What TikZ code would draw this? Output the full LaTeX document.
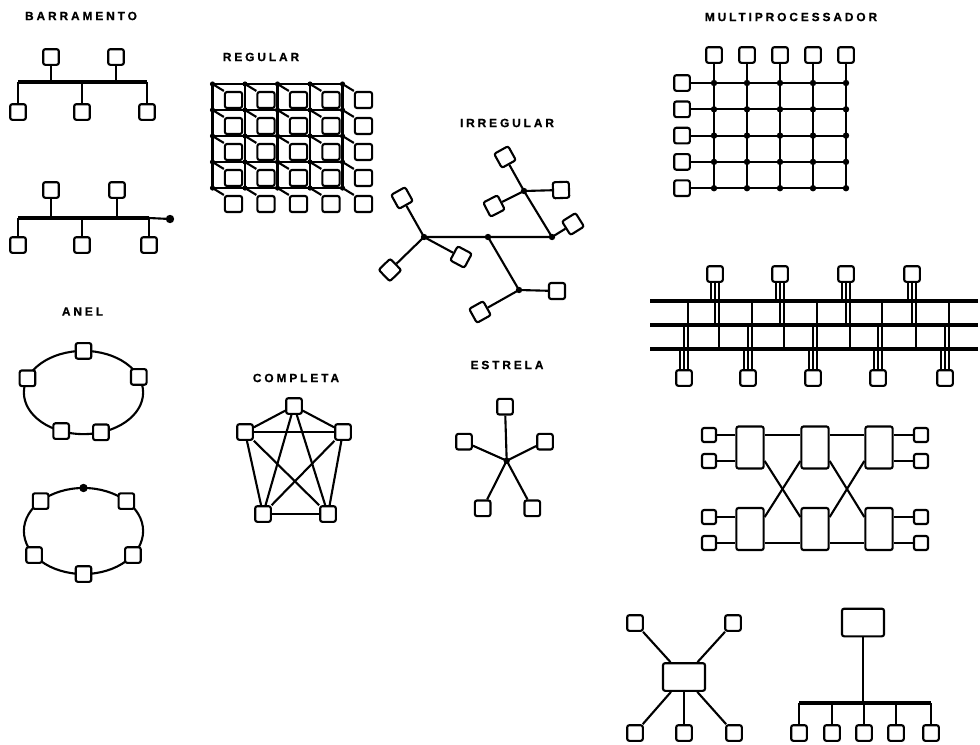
\documentclass[tikz,border=0pt]{standalone}
\usepackage{fontspec}
\newfontfamily\capfont{Liberation Sans}[LetterSpace=24,FakeBold=0.6]
\usetikzlibrary{positioning}
\tikzset{
  proc/.style={draw,line width=1.5pt,fill=white,rounded corners=1.5pt,
    minimum size=0.39cm,inner sep=0pt},
  cell/.style={proc,minimum width=0.43cm,minimum height=0.4cm},
  port/.style={proc,minimum size=0.35cm},
  tilt/.style={proc,minimum size=0.4cm,rotate=#1},
  swbox/.style={proc,minimum width=0.68cm,minimum height=1.05cm},
  hostbox/.style={proc,minimum width=1.05cm,minimum height=0.69cm},
  junc/.style={circle,fill,inner sep=0pt,minimum size=#1},
  junc/.default=0.16cm,
  link/.style={line width=1.5pt},
  bus/.style={line width=3.2pt},
  title/.style={font=\capfont\bfseries\fontsize{8.5}{10}\selectfont},
}

\begin{document}
\begin{tikzpicture}[x=0.025cm,y=-0.025cm]
  \useasboundingbox (0,0) rectangle (980,744);

  % barramento
  \node[title] (tbar) at (81,16) {BARRAMENTO};
  \foreach \n/\x/\y in {a/51/57,b/116/57,c/18/112,d/82/112,e/147/112}
    \node[proc] (p\n) at (\x,\y) {};
  \coordinate (busa) at (18,82);
  \coordinate (busb) at (147,82);
  \foreach \n in {a,...,e} \draw[link] (p\n) -- (p\n |- busa);
  \draw[bus] (busa) -- (busb);

  \foreach \n/\x/\y in {a/51/190,b/117/190,c/18/245,d/82/245,e/149/245}
    \node[proc] (t\n) at (\x,\y) {};
  \coordinate (busc) at (18,218);
  \coordinate (busd) at (149,218);
  \node[junc=0.21cm] (tend) at (170,219) {};
  \foreach \n in {a,...,e} \draw[link] (t\n) -- (t\n |- busc);
  \draw[link] (busd) -- (tend.center);
  \draw[bus] (busc) -- (busd);

  % regular
  \node[title] (treg) at (261,57) {REGULAR};
  \foreach \i in {0,...,4} \foreach \j in {0,...,4}
    \node[junc=0.13cm] (r\i\j) at ({212.5+32.5*\i},{84+26*\j}) {};
  \foreach \k in {0,...,4} {
    \draw[link] (r0\k.center) -- (r4\k.center);
    \draw[link] (r\k0.center) -- (r\k4.center);
  }
  \foreach \i in {0,...,4} \foreach \j in {0,...,4} {
    \node[cell] (c\i\j) at ({233.5+32.5*\i},{100+26*\j}) {};
    \draw[link] (r\i\j.center) -- (c\i\j.north west);
  }

  % irregular
  \node[title] (tirr) at (507,123) {IRREGULAR};
  \foreach \n/\x/\y in {A/424/237,B/488/237,C/552/237,D/524/191,E/519/290}
    \node[junc] (h\n) at (\x,\y) {};
  \draw[link] (hA.center) -- (hB.center) -- (hC.center)
    (hD.center) -- (hC.center) (hB.center) -- (hE.center);
  \foreach \n/\h/\x/\y/\r in {1/A/402/198/29,2/A/390/270/44,3/A/461/257/-28,
      4/D/505/157/29,5/D/561/190/2,6/D/494/206/27,7/C/573/224/32,
      8/E/557/291/0,9/E/480/312/29} {
    \node[tilt=\r] (g\n) at (\x,\y) {};
    \draw[link] (h\h.center) -- (g\n);
  }

  % multiprocessador
  \node[title] (tmul) at (791,17) {MULTIPROCESSADOR};
  \foreach \i in {0,...,4} {
    \node[proc] (mt\i) at ({714+33*\i},55) {};
    \node[proc] (ml\i) at (682,{83+26.3*\i}) {};
    \foreach \j in {0,...,4}
      \node[junc] (mx\i\j) at ({714+33*\i},{83+26.3*\j}) {};
  }
  \foreach \i in {0,...,4} {
    \draw[link] (mt\i) -- (mx\i4.center);
    \draw[link] (ml\i) -- (mx4\i.center);
  }

  % multiple buses
  \foreach \b/\y in {A/301,B/325,C/349} {
    \coordinate (b\b) at (650,\y);
    \coordinate (e\b) at (978,\y);
  }
  \foreach \k/\x in {1/715,2/780,3/846,4/912} {
    \node[proc] (mu\k) at (\x,274) {};
    \coordinate (mul\k) at ([xshift=-0.1cm]mu\k.south);
    \coordinate (mur\k) at ([xshift=0.1cm]mu\k.south);
    \draw[link] (mul\k) -- (mul\k |- bA) (mu\k.south) -- (mu\k.south |- bB)
      (mur\k) -- (mur\k |- bC);
  }
  \foreach \k/\x in {1/684,2/748,3/813,4/878,5/945} {
    \node[proc] (md\k) at (\x,378) {};
    \coordinate (mdl\k) at ([xshift=-0.1cm]md\k.north);
    \coordinate (mdr\k) at ([xshift=0.1cm]md\k.north);
    \draw[link] (mdl\k) -- (mdl\k |- bC) (md\k.north) -- (md\k.north |- bB)
      (mdr\k) -- (mdr\k |- bA);
  }
  \foreach \b in {A,B,C} \draw[bus] (b\b) -- (e\b);

  % switching network
  \foreach \c/\x in {1/750,2/815,3/879} {
    \node[swbox] (su\c) at (\x,447.5) {};
    \node[swbox] (sd\c) at (\x,529) {};
  }
  \foreach \k/\y in {1/435,2/461,3/517,4/543} {
    \node[port] (sl\k) at (709,\y) {};
    \node[port] (sr\k) at (921,\y) {};
  }
  \draw[link] (sl1) -- (sl1 -| su1.west) (sl2) -- (sl2 -| su1.west)
    (sl3) -- (sl3 -| sd1.west) (sl4) -- (sl4 -| sd1.west)
    (sr1) -- (sr1 -| su3.east) (sr2) -- (sr2 -| su3.east)
    (sr3) -- (sr3 -| sd3.east) (sr4) -- (sr4 -| sd3.east);
  \foreach \a/\b in {1/2,2/3} {
    \draw[link] (su\a.east |- sl1) -- (su\b.west |- sl1);
    \draw[link] (sd\a.east |- sl4) -- (sd\b.west |- sl4);
    \draw[link] (su\a.east |- sl2) -- (sd\b.west |- sl3);
    \draw[link] (sd\a.east |- sl3) -- (su\b.west |- sl2);
  }

  % central unit with terminals
  \node[hostbox] (hub) at (684,677) {};
  \foreach \n/\x/\y in {1/635/623,2/733/623,3/635/733,4/684/733,5/734/733} {
    \node[proc] (hs\n) at (\x,\y) {};
    \draw[link] (hub) -- (hs\n);
  }

  % host on a bus
  \node[hostbox] (host) at (863,622.5) {};
  \coordinate (lb1) at (799,703);
  \coordinate (lb2) at (931,703);
  \foreach \n/\x in {1/799,2/832,3/864,4/896,5/931} {
    \node[proc] (ls\n) at (\x,733) {};
    \draw[link] (ls\n) -- (ls\n |- lb1);
  }
  \draw[link] (host) -- (host |- lb1);
  \draw[bus] (lb1) -- (lb2);

  % anel
  \node[title] (tanel) at (82.5,311.5) {ANEL};
  \coordinate (ra) at (83.5,392.5);
  \draw[link] (ra) ellipse [x radius=1.49cm,y radius=1.04cm];
  \foreach \n/\t in {1/90,2/160,3/22,4/-112,5/-73}
    \path (ra) ++(\t:1.49cm and 1.04cm) node[proc] (ra\n) {};

  \coordinate (rb) at (83.5,531);
  \draw[link] (rb) ellipse [x radius=1.49cm,y radius=1.075cm];
  \path (rb) ++(90:1.49cm and 1.075cm) node[junc=0.21cm] (rbtop) {};
  \foreach \n/\t in {1/136,2/44,3/-146,4/-34,5/-90}
    \path (rb) ++(\t:1.49cm and 1.075cm) node[proc] (rb\n) {};

  % completa
  \node[title] (tcomp) at (296,378) {COMPLETA};
  \foreach \n/\x/\y in {1/294/406,2/245/432,3/343/432,4/263/514,5/328/514}
    \node[proc] (k\n) at (\x,\y) {};
  \foreach \a/\b in {1/2,1/3,1/4,1/5,2/3,2/4,2/5,3/4,3/5,4/5}
    \draw[link] (k\a) -- (k\b);

  % estrela
  \node[title] (test) at (507,365) {ESTRELA};
  \node[junc] (sc) at (506.7,460.7) {};
  \foreach \n/\x/\y in {1/505/406.7,2/464/441.7,3/545/441.7,4/482.7/508.3,5/532.3/508.3} {
    \node[proc] (st\n) at (\x,\y) {};
    \draw[link] (sc.center) -- (st\n);
  }
\end{tikzpicture}
\end{document}
